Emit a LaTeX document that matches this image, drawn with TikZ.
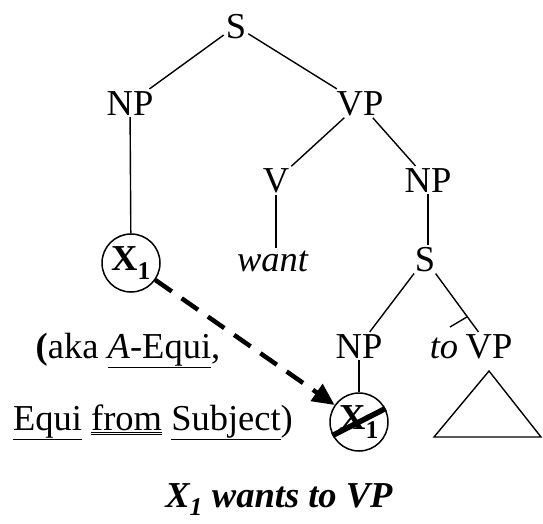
\documentclass[tikz,border=0pt]{standalone}
\usepackage{fontspec}
\setmainfont{Liberation Serif}
\usetikzlibrary{arrows.meta}
\begin{document}
\begin{tikzpicture}[x=1pt,y=-1pt,
    lbl/.style={font=\fontsize{36.5}{42}\selectfont, inner sep=2pt, anchor=base},
    gap/.style={circle, draw, line width=1.5pt, minimum size=58pt, inner sep=0pt, font=\fontsize{36.5}{42}\selectfont},
    branch/.style={line width=1.4pt}]
  \useasboundingbox (0,0) rectangle (543,523);

  \node[lbl] (S) at (236,38) {S};
  \node[lbl] (NP) at (130,115) {NP};
  \node[lbl] (VP) at (360,115) {VP};
  \node[lbl] (V) at (276,192) {V};
  \node[lbl] (NPo) at (428,192) {NP};
  \node[gap] (X) at (131,263) {\textbf{X\textsubscript{1}}};
  \node[lbl] (want) at (273,271) {\textit{want}};
  \node[lbl] (Se) at (425,271) {S};
  \node[lbl] (NPe) at (359,358) {NP};
  \node[lbl] (to) at (444,358) {\textit{to}};
  \node[lbl] (VPe) at (489,358) {VP};
  \node[gap] (PRO) at (359,422) {\textbf{X\textsubscript{1}}};
  \node[lbl] (aka) at (128,358) {\textbf{(}aka \underline{\textit{A}-Equi},};
  \node[lbl] (subj) at (153,430) {\underline{Equi} \underline{\underline{from}} \underline{Subject})};
  \node[lbl] (cap) at (279,507) {\textbf{\textit{X\textsubscript{1} wants to VP}}};

  \draw[branch] (S) -- (NP);
  \draw[branch] (S) -- (VP);
  \draw[branch] (NP) -- (X);
  \draw[branch] (VP) -- (V);
  \draw[branch] (VP) -- (NPo);
  \draw[branch] (V) -- (V |- want.north);
  \draw[branch] (NPo) -- (NPo |- Se.north);
  \draw[branch] (Se) -- (NPe);
  \draw[branch] (Se) -- coordinate[pos=0.74] (tie) (VPe);
  \coordinate (tieend) at (450,327);
  \draw[branch] (tie) -- (tieend);
  \draw[branch] (NPe) -- (PRO);
  \coordinate (apex) at (489,371);
  \draw[branch] (apex) -- (434,437) -- (541,437) -- cycle;
  \draw[line width=5.5pt] (PRO.207) -- (PRO.27);
  \draw[line width=4.5pt, dash pattern=on 20pt off 12pt, -{Triangle[length=22pt,width=20pt]}] (X) -- (PRO);

\end{tikzpicture}
\end{document}
